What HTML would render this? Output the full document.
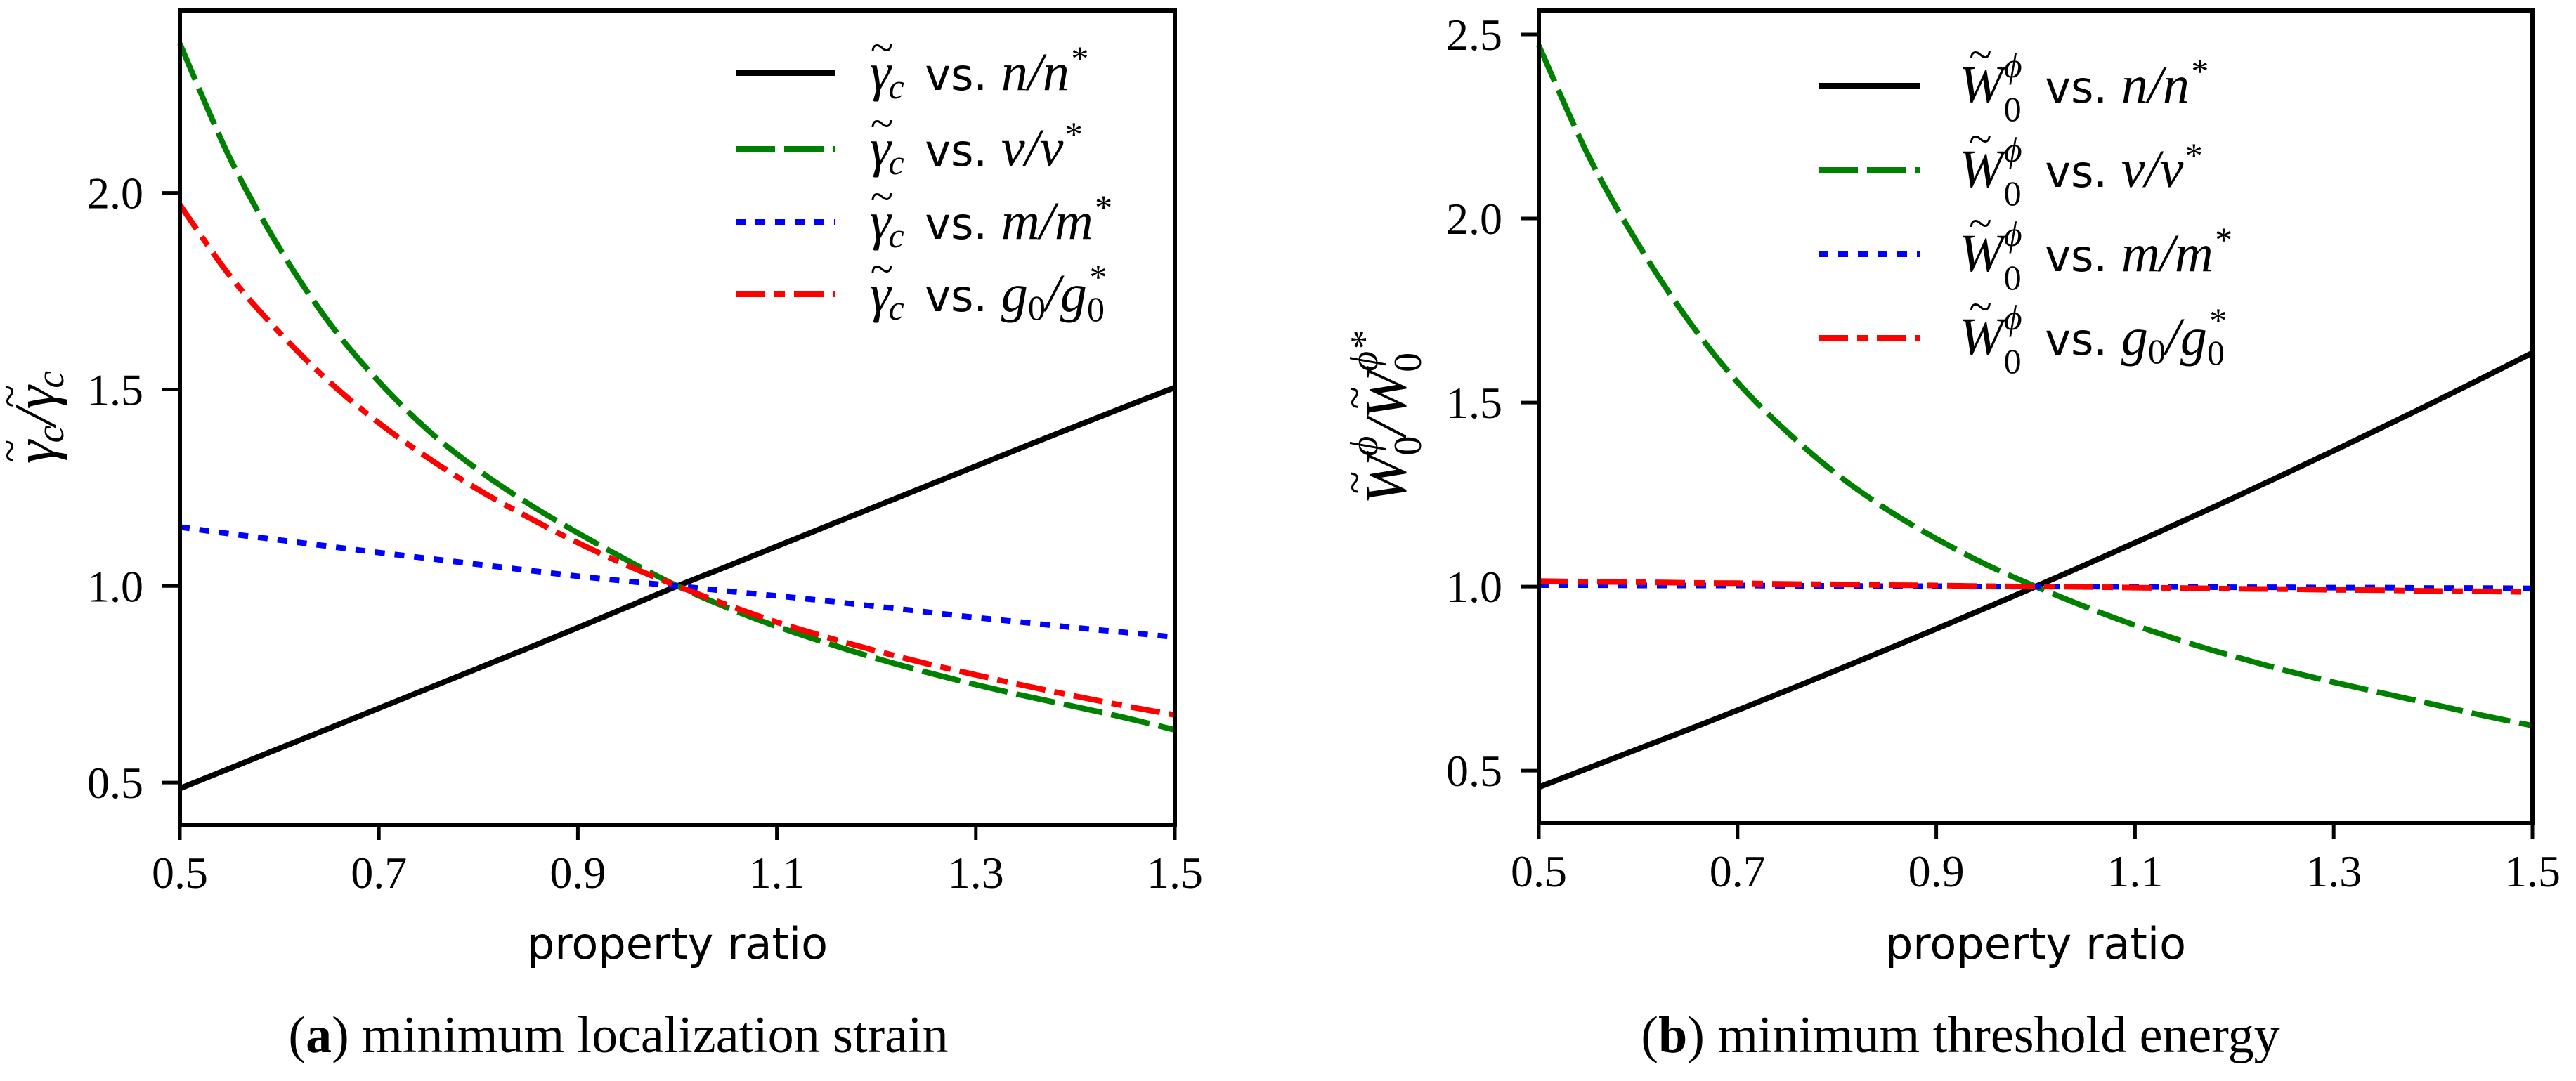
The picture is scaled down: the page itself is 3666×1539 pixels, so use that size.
<!DOCTYPE html>
<html><head><meta charset="utf-8"><style>
html,body{margin:0;padding:0;background:#fff;}
svg{display:block;}
.tick{font-family:"Liberation Serif",serif;font-size:64px;fill:#000;}
.lab{font-family:"DejaVu Sans","Liberation Sans",sans-serif;font-size:62px;fill:#000;}
.math{font-family:"Liberation Serif",serif;font-style:italic;}
.cap{font-family:"Liberation Serif",serif;font-size:74px;fill:#000;}
</style></head><body>
<svg id="fig" width="3666" height="1539" viewBox="0 0 3666 1539" xmlns="http://www.w3.org/2000/svg"></svg>
<script>
const xs = [0.5,0.55,0.6,0.65,0.7,0.75,0.8,0.85,0.9,0.95,1.0,1.05,1.1,1.15,1.2,1.25,1.3,1.35,1.4,1.45,1.5];
// panel a: gamma_c ratio
const aN  = [0.485,0.536,0.587,0.638,0.689,0.740,0.791,0.842,0.894,0.947,1.0,1.050,1.101,1.152,1.203,1.254,1.305,1.356,1.406,1.456,1.505];
const aNu = [2.38,2.09,1.86,1.67,1.52,1.395,1.295,1.21,1.135,1.065,1.0,0.945,0.897,0.855,0.816,0.781,0.749,0.72,0.693,0.665,0.634];
const aM  = [1.15,1.133,1.117,1.101,1.085,1.07,1.055,1.04,1.025,1.012,1.0,0.987,0.975,0.962,0.948,0.934,0.92,0.907,0.894,0.882,0.87];
const aG  = [1.97,1.79,1.645,1.52,1.415,1.325,1.245,1.175,1.11,1.052,1.0,0.952,0.908,0.87,0.835,0.803,0.774,0.746,0.72,0.695,0.672];
// panel b: W0 ratio
const bN  = [0.455,0.507,0.559,0.611,0.664,0.718,0.773,0.829,0.885,0.942,1.0,1.059,1.119,1.18,1.242,1.305,1.369,1.434,1.5,1.567,1.635];
const bNu = [2.47,2.17,1.93,1.725,1.555,1.42,1.305,1.21,1.13,1.06,1.0,0.945,0.895,0.85,0.81,0.773,0.74,0.71,0.68,0.65,0.622];
const bM  = [1.004,1.004,1.003,1.003,1.003,1.002,1.002,1.001,1.001,1.0,1.0,1.0,0.999,0.999,0.998,0.998,0.997,0.997,0.996,0.996,0.995];
const bG  = [1.015,1.013,1.012,1.01,1.009,1.007,1.006,1.004,1.003,1.001,1.0,0.999,0.997,0.996,0.994,0.993,0.991,0.99,0.988,0.987,0.985];
const xTicks = [0.5,0.7,0.9,1.1,1.3,1.5];
const xTickLabels = ["0.5","0.7","0.9","1.1","1.3","1.5"];
const aYTicks = [0.5,1.0,1.5,2.0];
const aYTickLabels = ["0.5","1.0","1.5","2.0"];
const bYTicks = [0.5,1.0,1.5,2.0,2.5];
const bYTickLabels = ["0.5","1.0","1.5","2.0","2.5"];

const NS="http://www.w3.org/2000/svg";
const svg=document.getElementById('fig');
function mk(tag,attrs,parent){const e=document.createElementNS(NS,tag);for(const k in attrs)e.setAttribute(k,attrs[k]);(parent||svg).appendChild(e);return e;}

const styles={
 black:{stroke:"#000",dash:""},
 green:{stroke:"#008000",dash:"56 13"},
 blue:{stroke:"#0000ff",dash:"14 14"},
 red:{stroke:"#ff0000",dash:"42 13 15 13"}
};

function smoothPath(pts){
 let d='M'+pts[0][0].toFixed(1)+' '+pts[0][1].toFixed(1);
 for(let i=0;i<pts.length-1;i++){
  const p0=pts[Math.max(0,i-1)],p1=pts[i],p2=pts[i+1],p3=pts[Math.min(pts.length-1,i+2)];
  const c1=[p1[0]+(p2[0]-p0[0])/6,p1[1]+(p2[1]-p0[1])/6];
  const c2=[p2[0]-(p3[0]-p1[0])/6,p2[1]-(p3[1]-p1[1])/6];
  d+=' C'+c1[0].toFixed(1)+' '+c1[1].toFixed(1)+' '+c2[0].toFixed(1)+' '+c2[1].toFixed(1)+' '+p2[0].toFixed(1)+' '+p2[1].toFixed(1);
 }
 return d;
}

function panel(cfg){
 const g=mk('g',{});
 
 
 const X=v=>cfg.L+(v-0.5)/(1.0)*(cfg.R-cfg.L);
 const Y=v=>cfg.T+(cfg.ymax-v)/(cfg.ymax-cfg.ymin)*(cfg.B-cfg.T);
 cfg.series.forEach(s=>{
  const pts=xs.map((x,i)=>[X(x),Y(s.vals[i])]);
  const p=mk('path',{d:smoothPath(pts),fill:'none',stroke:styles[s.st].stroke,'stroke-width':8,'stroke-dasharray':styles[s.st].dash},g);
  
  
 });
 const fr=mk('rect',{x:cfg.L,y:cfg.T,width:cfg.R-cfg.L,height:cfg.B-cfg.T,fill:'none',stroke:'#000','stroke-width':6},g);
 
 
 xTicks.forEach((t,i)=>{
  mk('line',{x1:X(t),x2:X(t),y1:cfg.B,y2:cfg.B+22,stroke:'#000','stroke-width':5},g);
  const tx=mk('text',{x:X(t),y:cfg.B+90,'text-anchor':'middle',class:'tick'},g);
  tx.textContent=xTickLabels[i];
  
  
 });
 cfg.yTicks.forEach((t,i)=>{
  mk('line',{x1:cfg.L-25,x2:cfg.L,y1:Y(t),y2:Y(t),stroke:'#000','stroke-width':5},g);
  const tx=mk('text',{x:cfg.L-52,y:Y(t)+22,'text-anchor':'end',class:'tick'},g);
  tx.textContent=cfg.yTickLabels[i];
  
  
 });
 const xl=mk('text',{x:(cfg.L+cfg.R)/2,y:1365,'text-anchor':'middle',class:'lab','font-size':'66'},g);
 xl.textContent='property ratio';
 
 
 const yl=mk('text',{x:0,y:0,'text-anchor':'middle',class:'math',transform:`translate(${cfg.ylx},${cfg.yly}) rotate(-90)`,'font-size':'84'},g);
 yl.innerHTML=cfg.ylab;
 
 
 cfg.series.forEach((s,i)=>{
  const y=cfg.legY[i];
  const ln=mk('line',{x1:cfg.legX1,x2:cfg.legX2,y1:y,y2:y,stroke:styles[s.st].stroke,'stroke-width':8,'stroke-dasharray':styles[s.st].dash},g);
  
  
  const t=mk('text',{x:cfg.legTx,y:y+24,class:'lab'},g);
  t.innerHTML=cfg.legSym+'<tspan dx="'+cfg.vsdx+'">vs.</tspan> '+s.leg;
  
  
 });
 const cap=mk('text',{x:cfg.capx,y:1498,'text-anchor':'middle',class:'cap'},g);
 cap.innerHTML=cfg.cap;
 
 
}

const gsym='<tspan class="math" font-size="76">γ</tspan><tspan class="math" font-size="60" dx="-30" dy="-40">~</tspan><tspan class="math" font-size="50" dx="-6" dy="52">c</tspan><tspan dy="-12"> </tspan>';
const wsym='<tspan class="math" font-size="76">W</tspan><tspan class="math" font-size="60" dx="-50" dy="-48">~</tspan><tspan class="math" font-size="50" dx="18" dy="12">ϕ</tspan><tspan font-family="Liberation Serif" font-size="50" dx="-26" dy="62">0</tspan><tspan dy="-26"> </tspan>';
const legs=[
 '<tspan class="math" font-size="76">n/n</tspan><tspan class="math" font-size="50" dy="-28">*</tspan><tspan dy="28"></tspan>',
 '<tspan class="math" font-size="76">ν/ν</tspan><tspan class="math" font-size="50" dy="-28">*</tspan><tspan dy="28"></tspan>',
 '<tspan class="math" font-size="76">m/m</tspan><tspan class="math" font-size="50" dy="-28">*</tspan><tspan dy="28"></tspan>',
 '<tspan class="math" font-size="76">g</tspan><tspan font-family="Liberation Serif" font-size="50" dy="12">0</tspan><tspan class="math" font-size="76" dy="-12">/g</tspan><tspan font-family="Liberation Serif" font-size="50" dy="14">0</tspan><tspan class="math" font-size="50" dx="-24" dy="-46">*</tspan><tspan dy="32"></tspan>'];

panel({name:'panel-a-chart',L:256,R:1672,T:15,B:1174,ymin:0.393,ymax:2.464,
 yTicks:aYTicks,yTickLabels:aYTickLabels,
 series:[{vals:aN,st:'black',name:'line-n',leg:legs[0]},{vals:aNu,st:'green',name:'line-nu',leg:legs[1]},{vals:aM,st:'blue',name:'line-m',leg:legs[2]},{vals:aG,st:'red',name:'line-g0',leg:legs[3]}],
 ylx:78,yly:590,
 ylab:'<tspan>γ</tspan><tspan font-size="60" dx="-32" dy="-44">~</tspan><tspan font-size="56" dx="-4" dy="56">c</tspan><tspan dy="-12">/γ</tspan><tspan font-size="60" dx="-32" dy="-44">~</tspan><tspan font-size="56" dx="-4" dy="56">c</tspan><tspan font-size="56" dx="-20" dy="-74">*</tspan>',
 legX1:1047,legX2:1188,legY:[104,212,316,419],legTx:1238,vsdx:10,legSym:gsym,
 capx:880,cap:'(<tspan font-weight="bold">a</tspan>) minimum localization strain'});

panel({name:'panel-b-chart',L:2190,R:3604,T:15,B:1172,ymin:0.357,ymax:2.565,
 yTicks:bYTicks,yTickLabels:bYTickLabels,
 series:[{vals:bN,st:'black',name:'line-n',leg:legs[0]},{vals:bNu,st:'green',name:'line-nu',leg:legs[1]},{vals:bM,st:'blue',name:'line-m',leg:legs[2]},{vals:bG,st:'red',name:'line-g0',leg:legs[3]}],
 ylx:2000,yly:595,
 ylab:'<tspan>W</tspan><tspan font-size="60" dx="-56" dy="-52">~</tspan><tspan font-size="56" dx="22" dy="12">ϕ</tspan><tspan font-family="Liberation Serif" font-style="normal" font-size="56" dx="-28" dy="62">0</tspan><tspan dy="-22">/W</tspan><tspan font-size="60" dx="-56" dy="-52">~</tspan><tspan font-size="56" dx="22" dy="12">ϕ*</tspan><tspan font-family="Liberation Serif" font-style="normal" font-size="56" dx="-58" dy="62">0</tspan>',
 legX1:2588,legX2:2733,legY:[122,242,362,481],legTx:2788,vsdx:14,legSym:wsym,
 capx:2790,cap:'(<tspan font-weight="bold">b</tspan>) minimum threshold energy'});
</script>
</body></html>
